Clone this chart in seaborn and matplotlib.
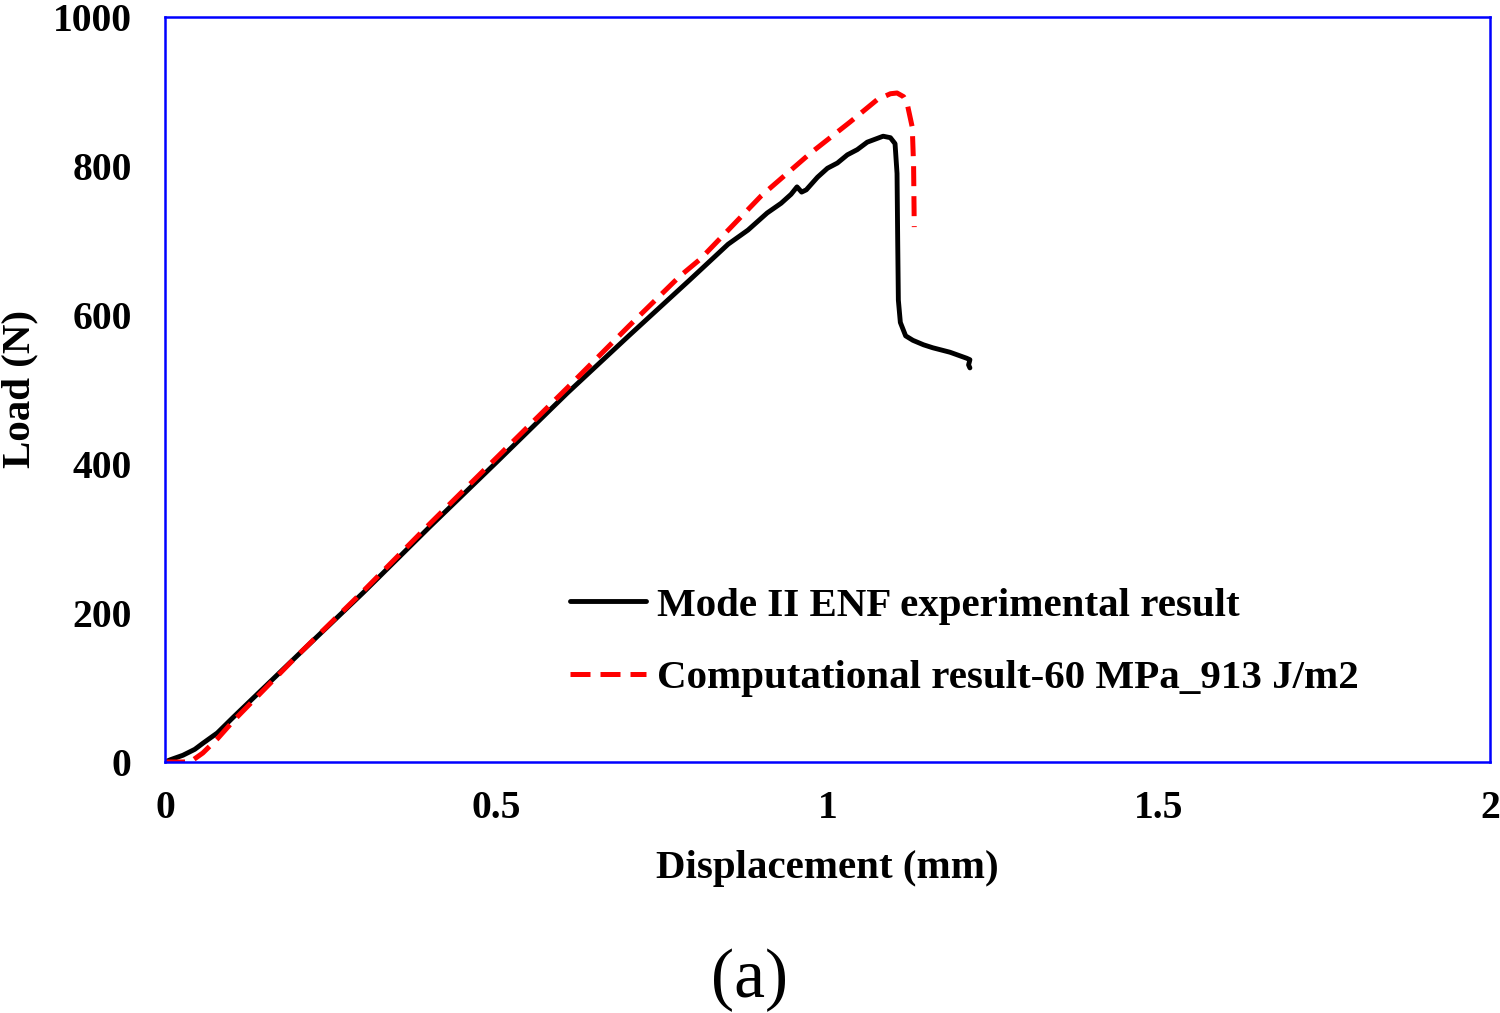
import matplotlib
matplotlib.use("Agg")
import matplotlib.pyplot as plt
import seaborn as sns

# Mode II ENF experimental load-displacement curve
disp_exp = [0, 0.008, 0.027, 0.045, 0.057, 0.079, 0.103, 0.2, 0.3, 0.4, 0.5, 0.607, 0.7,
            0.792, 0.85, 0.88, 0.909, 0.93, 0.945, 0.954, 0.961, 0.968, 0.985, 1.0, 1.015,
            1.03, 1.045, 1.06, 1.072, 1.084, 1.095, 1.102, 1.105, 1.106, 1.107, 1.11,
            1.118, 1.129, 1.145, 1.159, 1.185, 1.21, 1.215, 1.213, 1.215]
load_exp = [0, 3, 9, 17, 25, 39, 60, 143, 228, 316, 402, 495, 572,
            647, 695, 714, 737, 750, 762, 772, 765, 768, 785, 797, 804,
            815, 822, 832, 836, 840, 838, 830, 790, 700, 620, 590,
            572, 566, 560, 556, 550, 542, 540, 533, 529]

# Computational result (60 MPa, 913 J/m2)
disp_num = [0, 0.038, 0.057, 0.08, 0.103, 0.2, 0.3, 0.4, 0.5, 0.607, 0.7, 0.777, 0.808,
            0.9, 0.974, 1.034, 1.075, 1.095, 1.105, 1.115, 1.12, 1.128, 1.13, 1.131]
load_num = [0, 0, 12, 32, 55, 143, 230, 320, 408, 502, 585, 652, 675,
            760, 817, 859, 889, 897, 898, 893, 885, 852, 800, 718]

x_ticks = [0, 0.5, 1, 1.5, 2]
x_tick_labels = ["0", "0.5", "1", "1.5", "2"]
y_ticks = [0, 200, 400, 600, 800, 1000]

sns.set_style("white")
plt.rcParams['font.family'] = ['Liberation Serif', 'DejaVu Serif']
plt.rcParams['text.color'] = 'black'
plt.rcParams['axes.labelcolor'] = 'black'

fig = plt.figure(figsize=(15, 10.13), dpi=100)
ax = fig.add_axes([0.11, 0.2478, 0.8833, 0.7354])

sns.lineplot(x=disp_exp, y=load_exp, ax=ax, color="black", linewidth=3.5,
             sort=False, estimator=None, label="Mode II ENF experimental result")
sns.lineplot(x=disp_num, y=load_num, ax=ax, color="red", linewidth=3.6,
             linestyle=(0, (4, 2)), sort=False, estimator=None,
             label="Computational result-60 MPa_913 J/m2")

ax.set_xlim(0, 2)
ax.set_ylim(0, 1000)
ax.set_xticks(x_ticks)
ax.set_xticklabels(x_tick_labels)
ax.set_yticks(y_ticks)

for side in ax.spines.values():
    side.set_color("blue")
    side.set_linewidth(1.8)
    side.set_visible(True)

ax.tick_params(axis="both", direction="in", length=7, width=1.8, color="blue",
               labelsize=28.5, labelcolor="black")
ax.tick_params(axis="x", pad=20)
ax.tick_params(axis="y", pad=24)
for lbl in ax.get_xticklabels() + ax.get_yticklabels():
    lbl.set_fontweight("bold")

ax.set_xlabel("Displacement (mm)", fontsize=29.5, fontweight="bold", labelpad=17, color="black")
ax.set_ylabel("Load (N)", fontsize=29.5, fontweight="bold", labelpad=10, color="black")

leg = ax.legend(loc="upper left", bbox_to_anchor=(0.306, 0.235), frameon=False,
                prop={"size": 29.5, "weight": "bold"}, borderpad=0, borderaxespad=0,
                handlelength=1.85, handletextpad=0.26, labelspacing=0.85)
for t in leg.get_texts():
    t.set_color("black")

fig.text(0.5, 0.0326, "(a)", ha="center", va="center", fontsize=50, color="black")

plt.savefig("out.png", dpi=100)
